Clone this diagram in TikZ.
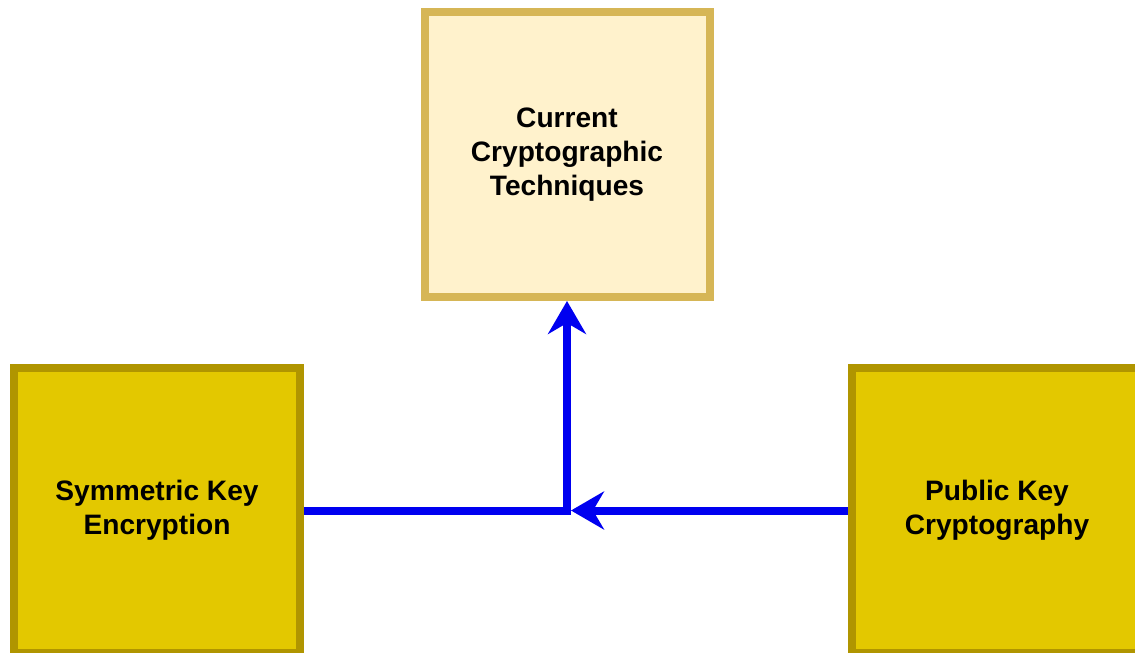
\documentclass[tikz,border=0pt]{standalone}
\usepackage{fontspec}
\setmainfont{Liberation Sans}
\usepackage{tikz}
\usetikzlibrary{positioning}
\usetikzlibrary{arrows.meta}
\definecolor{topfill}{HTML}{FFF2CC}
\definecolor{topline}{HTML}{D6B656}
\definecolor{keyfill}{HTML}{E3C800}
\definecolor{keyline}{HTML}{B09500}
\definecolor{linkblue}{HTML}{0000F0}

\begin{document}
\begin{tikzpicture}[
  box/.style={draw, line width=0.16cm, minimum width=5.7cm, minimum height=5.7cm,
    align=center, font=\fontsize{16}{19.4}\selectfont\bfseries},
  topbox/.style={box, fill=topfill, draw=topline},
  keybox/.style={box, fill=keyfill, draw=keyline},
  link/.style={draw=linkblue, line width=0.16cm}
]
\useasboundingbox (0,0) rectangle (22.7,-13.06);

\draw (11.34,-3.09) node[topbox] (techniques) {Current\\Cryptographic\\Techniques};
\draw (3.14,-10.21) node[keybox, minimum width=5.72cm] (symmetric) {Symmetric Key\\Encryption};
\draw (19.94,-10.21) node[keybox, minimum width=5.8cm] (public) {Public Key\\Cryptography};

\coordinate (join) at (techniques.south |- symmetric.east);

\path[link,-{Stealth[length=0.66cm,width=0.76cm,inset=0.22cm]}] (symmetric.east) -| (techniques.south);
\path[link,-{Stealth[length=0.66cm,width=0.76cm,inset=0.22cm]},shorten >=0.08cm] (public.west) -- (join);

\end{tikzpicture}
\end{document}
